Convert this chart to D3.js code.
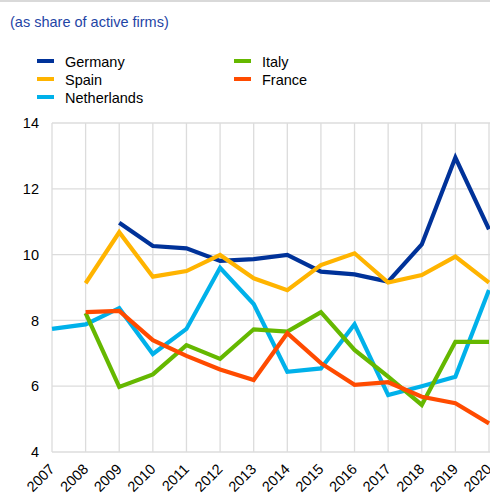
<!DOCTYPE html>
<html>
<head>
<meta charset="utf-8">
<script src="https://cdn.jsdelivr.net/npm/d3@7"></script>
<style>
  body { margin: 0; background: #fff; }
  svg { display: block; font-family: "Liberation Sans", Arial, sans-serif; }
</style>
</head>
<body>
<svg id="chart" width="490" height="497"></svg>
<script>
const years = [2007, 2008, 2009, 2010, 2011, 2012, 2013, 2014, 2015, 2016, 2017, 2018, 2019, 2020];
const yTicks = [4, 6, 8, 10, 12, 14];

const germany = [null, null, 10.97, 10.26, 10.19, 9.81, 9.86, 9.99, 9.48, 9.40, 9.18, 10.31, 12.95, 10.77];
const spain = [null, 9.13, 10.68, 9.33, 9.50, 9.99, 9.28, 8.92, 9.68, 10.04, 9.15, 9.38, 9.94, 9.15];
const netherlands = [7.74, 7.88, 8.37, 6.98, 7.74, 9.60, 8.50, 6.44, 6.54, 7.88, 5.73, 6.00, 6.29, 8.92];
const italy = [null, 8.22, 5.98, 6.36, 7.25, 6.83, 7.73, 7.66, 8.25, 7.10, 6.29, 5.43, 7.35, 7.35];
const france = [null, 8.25, 8.29, 7.40, 6.92, 6.51, 6.19, 7.61, 6.70, 6.04, 6.12, 5.68, 5.48, 4.87];

const series = [
  { name: "Germany", values: germany, color: "#003299" },
  { name: "Spain", values: spain, color: "#ffb400" },
  { name: "Netherlands", values: netherlands, color: "#00b1ea" },
  { name: "Italy", values: italy, color: "#65b800" },
  { name: "France", values: france, color: "#ff4b00" }
];

const svg = d3.select("#chart");

// top rule
svg.append("rect").attr("x", 0).attr("y", 0).attr("width", 490).attr("height", 2).attr("fill", "#d9d9d9");

svg.append("text")
  .attr("x", 10).attr("y", 27)
  .attr("font-size", "14.5px")
  .attr("fill", "#1f45a5")
  .text("(as share of active firms)");

// legend
const legendPos = [[37, 61], [37, 79], [37, 97], [234, 61], [234, 79]];
series.forEach((s, i) => {
  const [lx, ly] = legendPos[i];
  svg.append("rect").attr("x", lx).attr("y", ly - 2).attr("width", 17).attr("height", 4).attr("fill", s.color);
  svg.append("text").attr("x", lx + 28).attr("y", ly + 5.5)
    .attr("font-size", "14.5px").attr("fill", "#000").text(s.name);
});

const x = d3.scaleLinear().domain([2007, 2020]).range([52, 489]);
const y = d3.scaleLinear().domain([4, 14]).range([452, 123]);

const grid = svg.append("g");
grid.selectAll("line.v").data(years).enter().append("line")
  .attr("x1", d => x(d)).attr("x2", d => x(d))
  .attr("y1", y(14)).attr("y2", y(4))
  .attr("stroke", "#dcdcdc").attr("stroke-width", 1.3);
grid.selectAll("line.h").data(yTicks).enter().append("line")
  .attr("x1", x(2007)).attr("x2", 490)
  .attr("y1", d => y(d)).attr("y2", d => y(d))
  .attr("stroke", "#dcdcdc").attr("stroke-width", 1.3);

// y axis labels
svg.append("g")
  .attr("transform", `translate(${x(2007)},0)`)
  .call(d3.axisLeft(y).tickValues(yTicks).tickSize(0).tickPadding(13).tickFormat(d3.format("d")))
  .call(g => g.select(".domain").remove())
  .selectAll("text")
  .attr("font-size", "14.5px")
  .attr("fill", "#000")
  .attr("font-family", "Liberation Sans, Arial, sans-serif");

// x axis labels
svg.append("g")
  .attr("transform", `translate(0,${y(4)})`)
  .call(d3.axisBottom(x).tickValues(years).tickSize(0).tickFormat(d3.format("d")))
  .call(g => g.select(".domain").remove())
  .selectAll("text")
  .attr("font-size", "14.5px")
  .attr("fill", "#000")
  .attr("font-family", "Liberation Sans, Arial, sans-serif")
  .attr("text-anchor", "end")
  .attr("dy", "0")
  .attr("y", 0)
  .attr("transform", "translate(3,18) rotate(-45)");

const line = d3.line()
  .defined(d => d.v != null)
  .x(d => x(d.year))
  .y(d => y(d.v));

svg.selectAll("path.series")
  .data(series)
  .enter().append("path")
  .attr("class", "series")
  .attr("fill", "none")
  .attr("stroke", d => d.color)
  .attr("stroke-width", 4.2)
  .attr("stroke-linejoin", "miter")
  .attr("d", d => line(years.map((yr, i) => ({ year: yr, v: d.values[i] }))));
</script>
</body>
</html>
